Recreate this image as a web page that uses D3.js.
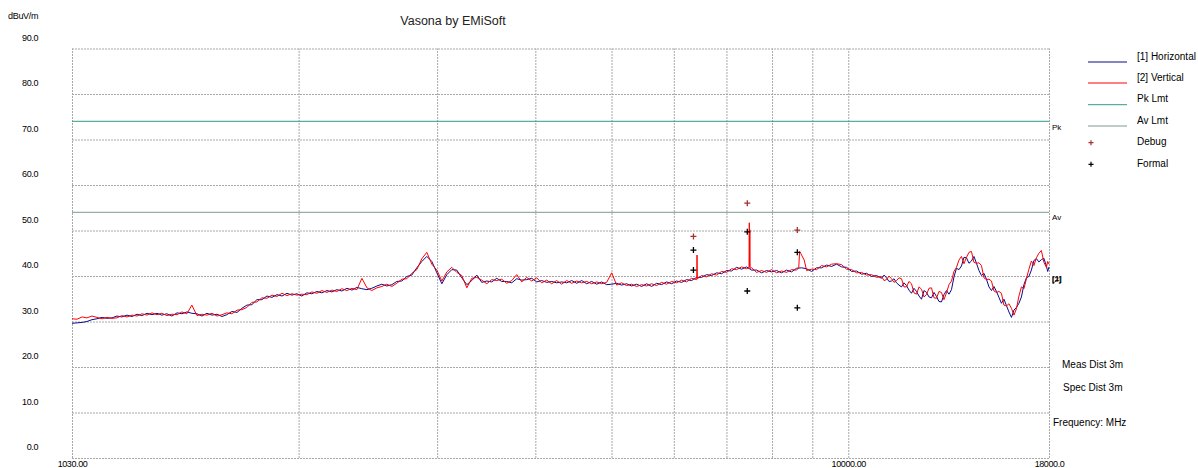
<!DOCTYPE html>
<html>
<head>
<meta charset="utf-8">
<script src="https://cdn.jsdelivr.net/npm/d3@7"></script>
<style>
body { margin: 0; background: #fff; }
text { font-family: "Liberation Sans", Arial, sans-serif; }
</style>
</head>
<body>
<svg id="chart"></svg>
<script>
// sweep frequencies (MHz)
const freqMHz = [
    1030,1045,1061,1076,1092,1108,1125,1141,1158,1175,
    1192,1210,1228,1246,1264,1283,1302,1321,1340,1360,
    1380,1401,1421,1442,1463,1485,1507,1529,1552,1575,
    1598,1621,1645,1670,1694,1719,1744,1770,1796,1823,
    1850,1877,1905,1933,1961,1990,2019,2049,2079,2110,
    2141,2173,2205,2237,2270,2304,2338,2372,2407,2443,
    2478,2515,2552,2589,2628,2666,2706,2746,2786,2827,
    2869,2911,2954,2998,3042,3087,3132,3178,3225,3273,
    3321,3370,3419,3470,3521,3573,3625,3679,3733,3788,
    3844,3900,3958,4016,4075,4136,4196,4258,4321,4385,
    4449,4515,4581,4649,4717,4787,4858,4929,5002,5076,
    5150,5226,5303,5381,5461,5541,5623,5706,5790,5875,
    5962,6049,6139,6229,6321,6414,6509,6604,6702,6801,
    6901,7003,7106,7211,7317,7425,7535,7646,7758,7873,
    7989,8107,8226,8348,8471,8596,8722,8851,8981,9114,
    9249,9385,9524,9664,9806,9951,10098,10246,10397,10551,
    10706,10863,11023,11185,11350,11517,11687,11859,12034,12212,
    12392,12574,12760,12948,13138,13332,13529,13728,13930,14136,
    14344,14556,14770,14988,15209,15433,15660,15891,16126,16363,
    16604,16848,17096,17348,17604,17863,18000
];

// [1] Horizontal (dBuV/m)
const horizontal = [
    29.6,29.7,29.8,30.0,30.4,30.6,30.9,30.7,30.8,31.2,
    31.0,31.4,31.1,31.6,31.3,31.8,31.5,31.8,31.4,31.7,
    31.2,31.9,31.7,32.1,31.8,31.7,31.2,31.8,31.4,31.6,
    31.1,31.5,32.2,32.0,32.9,33.6,33.7,34.8,34.8,35.6,
    35.3,35.9,35.6,36.2,35.8,36.1,35.6,36.3,36.1,36.6,
    36.3,36.8,36.5,37.0,36.7,37.3,36.9,37.5,37.2,37.0,
    37.3,37.8,38.2,37.8,38.1,38.8,38.9,39.9,40.2,41.8,
    43.2,44.3,43.2,40.7,38.3,40.3,41.4,41.3,39.6,38.1,
    39.0,40.2,38.6,38.9,38.7,39.5,38.8,38.8,38.5,39.4,
    39.1,39.2,39.5,38.7,39.0,38.6,38.8,38.5,38.7,38.5,
    39.0,38.4,39.0,38.3,38.8,38.2,38.7,38.1,38.2,38.4,
    38.0,38.3,37.8,38.2,37.7,38.3,37.7,38.4,38.1,38.7,
    38.3,38.9,38.6,39.2,39.0,39.7,39.7,40.3,40.1,40.7,
    40.5,41.2,41.1,41.9,41.5,42.0,41.3,41.3,40.7,41.2,
    40.9,41.2,40.7,41.3,40.9,41.7,41.8,41.6,41.0,41.8,
    41.8,42.4,42.1,42.6,42.0,41.9,41.0,41.1,40.4,40.6,
    39.9,40.1,39.5,39.6,38.9,38.5,37.6,37.9,36.2,36.6,
    34.9,36.4,35.2,35.5,34.3,36.8,37.0,41.7,42.2,44.0,
    43.3,42.8,40.1,39.3,36.8,36.6,34.0,33.5,30.9,33.1,
    35.4,39.6,41.3,43.8,43.6,42.2,42.0
];

// [2] Vertical (dBuV/m)
const vertical = [
    30.6,30.5,31.0,30.8,31.2,30.9,30.6,30.9,30.7,30.8,
    31.3,31.0,31.4,31.2,31.7,31.4,31.9,31.5,31.8,31.3,
    31.6,31.5,32.1,31.7,33.6,31.3,31.6,31.4,31.8,31.2,
    31.5,31.9,31.7,32.5,32.6,33.1,34.2,34.3,35.2,35.1,
    35.8,35.5,36.2,35.7,36.1,35.8,36.0,35.9,36.5,36.2,
    36.8,36.4,36.9,36.6,37.2,36.8,37.3,37.0,39.5,37.4,
    36.8,37.4,37.7,38.2,37.7,38.4,39.3,39.4,40.6,41.4,
    43.8,45.2,42.6,41.3,38.9,40.9,41.9,40.8,40.1,37.4,
    39.5,39.7,39.1,38.3,39.2,39.0,39.3,38.4,39.0,40.3,
    38.7,39.7,38.9,39.6,38.5,39.1,38.3,39.0,38.2,39.0,
    38.4,38.9,38.5,38.8,38.3,38.7,38.3,38.6,40.7,38.0,
    38.5,37.9,38.2,37.7,38.1,37.8,38.3,37.9,38.6,38.2,
    38.8,38.5,39.1,38.7,39.5,39.2,40.1,39.8,40.5,40.2,
    41.0,40.8,41.6,41.4,42.0,41.6,41.8,40.8,41.2,40.8,
    41.4,40.7,41.1,40.8,41.4,41.3,44.6,41.2,41.5,41.4,
    42.3,42.0,42.6,42.7,42.5,41.5,41.4,40.7,40.8,40.2,
    40.3,39.7,39.9,39.2,39.4,39.0,39.4,37.6,38.3,36.0,
    37.1,35.9,37.4,35.1,36.4,36.3,38.9,41.9,44.3,44.1,
    45.4,42.8,42.3,39.2,38.9,36.4,36.2,33.4,32.9,32.8,
    37.6,39.4,43.3,44.0,45.6,41.9,42.6
];

// extra sweep points above 11 GHz, where the noise band is wide
const hfFreq = [
    11104,11267,11433,11602,11773,11946,12122,12302,12483,12666,
    12854,13043,13234,13430,13628,13829,14032,14240,14449,14663,
    14878,15098,15321,15546,15775,16008,16244,16483,16726,16972,
    17221,17475,17733,17931
];
const hfHorizontal = [
    40.2,38.8,39.4,38.0,38.5,36.9,37.3,35.6,36.8,35.4,
    36.4,34.4,35.9,36.0,39.8,41.4,44.1,42.8,44.3,41.2,
    40.6,37.6,37.7,35.3,34.9,32.1,32.5,34.0,38.1,39.9,
    43.4,43.1,43.9,41.0
];
const hfVertical = [
    39.0,40.0,38.6,39.6,37.6,38.8,36.3,37.6,35.4,37.3,
    35.2,36.6,34.8,38.1,41.0,43.5,42.7,45.2,43.0,42.9,
    39.6,39.3,36.7,36.6,33.6,33.9,31.4,35.6,37.2,41.5,
    42.3,45.0,43.0,43.2
];

// narrow spikes on the vertical trace
const spikeFreq = [6418, 6422, 6428, 7478, 7484, 7490, 7496, 7502, 8650, 8672, 8700, 8790];
const spikeVal  = [39.3, 44.6, 39.4, 41.8, 51.7, 42.0, 50.2, 41.7, 41.8, 45.4, 45.0, 43.5];

// limits
const pkLimit = 74;
const avLimit = 54;

// measured points
const debugFreq = [6355, 7440, 8614];
const debugVal  = [48.7, 56.0, 50.1];
const formalFreq = [6355, 6355, 7440, 7440, 8614, 8614];
const formalVal  = [45.7, 41.3, 49.7, 36.7, 45.2, 33.0];

// axes
const gridFreqs = [1030, 2000, 3000, 4000, 5000, 6000, 7000, 8000, 9000, 10000, 18000];
const xLabelFreqs = [1030, 10000, 18000];
const xLabels = ['1030.00', '10000.00', '18000.0'];
const yTicks = [0, 10, 20, 30, 40, 50, 60, 70, 80, 90];

const legendNames = ['[1] Horizontal', '[2] Vertical', 'Pk Lmt', 'Av Lmt', 'Debug', 'Formal'];

// layout
const margin = {top: 48.5, right: 149, bottom: 10, left: 72};
const width = 977;
const height = 409.5;

const colH = '#0a0a8c';
const colV = '#ff0000';
const colPk = '#339988';
const colAv = '#7f9a8e';
const colDebug = '#a83030';
const colFormal = '#000000';

const svg = d3.select('#chart')
    .attr('width', 1198)
    .attr('height', 468);

const g = svg.append('g')
    .attr('transform', 'translate(' + margin.left + ',' + margin.top + ')');

const x = d3.scaleLog().domain([1030, 18000]).range([0, width]);
const y = d3.scaleLinear().domain([0, 90]).range([height, 0]);

// vertical grid
g.append('g')
    .attr('transform', 'translate(0,' + height + ')')
    .call(d3.axisBottom(x).tickValues(gridFreqs).tickSize(-height).tickFormat(''))
    .call(s => s.select('.domain').remove())
    .selectAll('line')
    .attr('stroke', '#a8a8a8')
    .attr('stroke-dasharray', '2,1');

// horizontal grid
g.append('g')
    .call(d3.axisLeft(y).tickValues(yTicks).tickSize(-width).tickFormat(''))
    .call(s => s.select('.domain').remove())
    .selectAll('line')
    .attr('stroke', '#a8a8a8')
    .attr('stroke-dasharray', '2,1');

// y labels
g.append('g')
    .call(d3.axisLeft(y).tickValues(yTicks).tickFormat(d3.format('.1f')).tickSize(0).tickPadding(34))
    .call(s => s.select('.domain').remove())
    .selectAll('text')
    .attr('y', -11)
    .attr('fill', '#000')
    .style('font-size', '9px')
    .style('letter-spacing', '-0.4px');

// x labels
g.append('g')
    .attr('transform', 'translate(0,' + height + ')')
    .call(d3.axisBottom(x).tickValues(xLabelFreqs).tickFormat((d, i) => xLabels[i]).tickSize(0).tickPadding(3))
    .call(s => s.select('.domain').remove())
    .selectAll('text')
    .attr('fill', '#000')
    .style('font-size', '9px')
    .style('letter-spacing', '-0.4px');

// limit lines
g.append('line')
    .attr('x1', x(1030)).attr('x2', x(18000))
    .attr('y1', y(pkLimit)).attr('y2', y(pkLimit))
    .attr('stroke', colPk).attr('stroke-width', 1);
g.append('line')
    .attr('x1', x(1030)).attr('x2', x(18000))
    .attr('y1', y(avLimit)).attr('y2', y(avLimit))
    .attr('stroke', colAv).attr('stroke-width', 1);

// traces
const line = d3.line()
    .x(d => x(d.f))
    .y(d => y(d.v));

const dataH = freqMHz.map((f, i) => ({f: f, v: horizontal[i]}))
    .concat(hfFreq.map((f, i) => ({f: f, v: hfHorizontal[i]})))
    .sort((a, b) => a.f - b.f);
const dataV = freqMHz.map((f, i) => ({f: f, v: vertical[i]}))
    .concat(hfFreq.map((f, i) => ({f: f, v: hfVertical[i]})))
    .concat(spikeFreq.map((f, i) => ({f: f, v: spikeVal[i]})))
    .sort((a, b) => a.f - b.f);

g.append('path')
    .datum(dataH)
    .attr('d', line)
    .attr('fill', 'none')
    .attr('stroke', colH)
    .attr('stroke-width', 1);

g.append('path')
    .datum(dataV)
    .attr('d', line)
    .attr('fill', 'none')
    .attr('stroke', colV)
    .attr('stroke-width', 1);

// plus markers
const plus = 'M-3,0H3M0,-3V3';
g.selectAll('.debug')
    .data(debugFreq.map((f, i) => ({f: f, v: debugVal[i]})))
    .enter()
    .append('path')
    .attr('class', 'debug')
    .attr('d', plus)
    .attr('transform', d => 'translate(' + x(d.f) + ',' + y(d.v) + ')')
    .attr('stroke', colDebug)
    .attr('stroke-width', 1.3);

g.selectAll('.formal')
    .data(formalFreq.map((f, i) => ({f: f, v: formalVal[i]})))
    .enter()
    .append('path')
    .attr('class', 'formal')
    .attr('d', plus)
    .attr('transform', d => 'translate(' + x(d.f) + ',' + y(d.v) + ')')
    .attr('stroke', colFormal)
    .attr('stroke-width', 1.3);

// limit tags at right edge
g.append('text').attr('x', width + 3).attr('y', y(pkLimit) + 9).text('Pk').style('font-size', '8px');
g.append('text').attr('x', width + 3).attr('y', y(avLimit) + 8).text('Av').style('font-size', '8px');
g.append('text').attr('x', width + 3).attr('y', y(40) + 5).text('[1]').style('font-size', '8px').style('font-weight', 'bold');
g.append('text').attr('x', width + 3).attr('y', y(40) + 6).text('[2]').style('font-size', '8px');

// title and unit
svg.append('text').attr('x', 453).attr('y', 25).attr('text-anchor', 'middle')
    .style('font-size', '12.5px').attr('fill', '#222').text('Vasona by EMiSoft');
svg.append('text').attr('x', 8).attr('y', 19)
    .style('font-size', '9px').style('letter-spacing', '-0.3px').text('dBuV/m');

// legend
const legendY = [56, 77, 98.7, 120, 141.7, 163.3];
const legend = svg.append('g');
legendNames.forEach(function(name, i) {
    const ly = legendY[i];
    if (i < 4) {
        legend.append('line')
            .attr('x1', 1088).attr('x2', 1127)
            .attr('y1', ly + 6).attr('y2', ly + 6)
            .attr('stroke', [colH, colV, colPk, colAv][i])
            .attr('stroke-width', 1);
    } else {
        legend.append('path')
            .attr('d', 'M-2.5,0H2.5M0,-2.5V2.5')
            .attr('transform', 'translate(1091,' + (ly + 1) + ')')
            .attr('stroke', i === 4 ? colDebug : colFormal)
            .attr('stroke-width', 1.2);
    }
    legend.append('text')
        .attr('x', 1137).attr('y', ly + 3.5)
        .style('font-size', '10px')
        .text(name);
});

// notes
svg.append('text').attr('x', 1062).attr('y', 367.5).style('font-size', '10px').text('Meas Dist 3m');
svg.append('text').attr('x', 1063).attr('y', 391).style('font-size', '10px').text('Spec Dist 3m');
svg.append('text').attr('x', 1053).attr('y', 425.5).style('font-size', '10px').text('Frequency: MHz');
</script>
</body>
</html>
